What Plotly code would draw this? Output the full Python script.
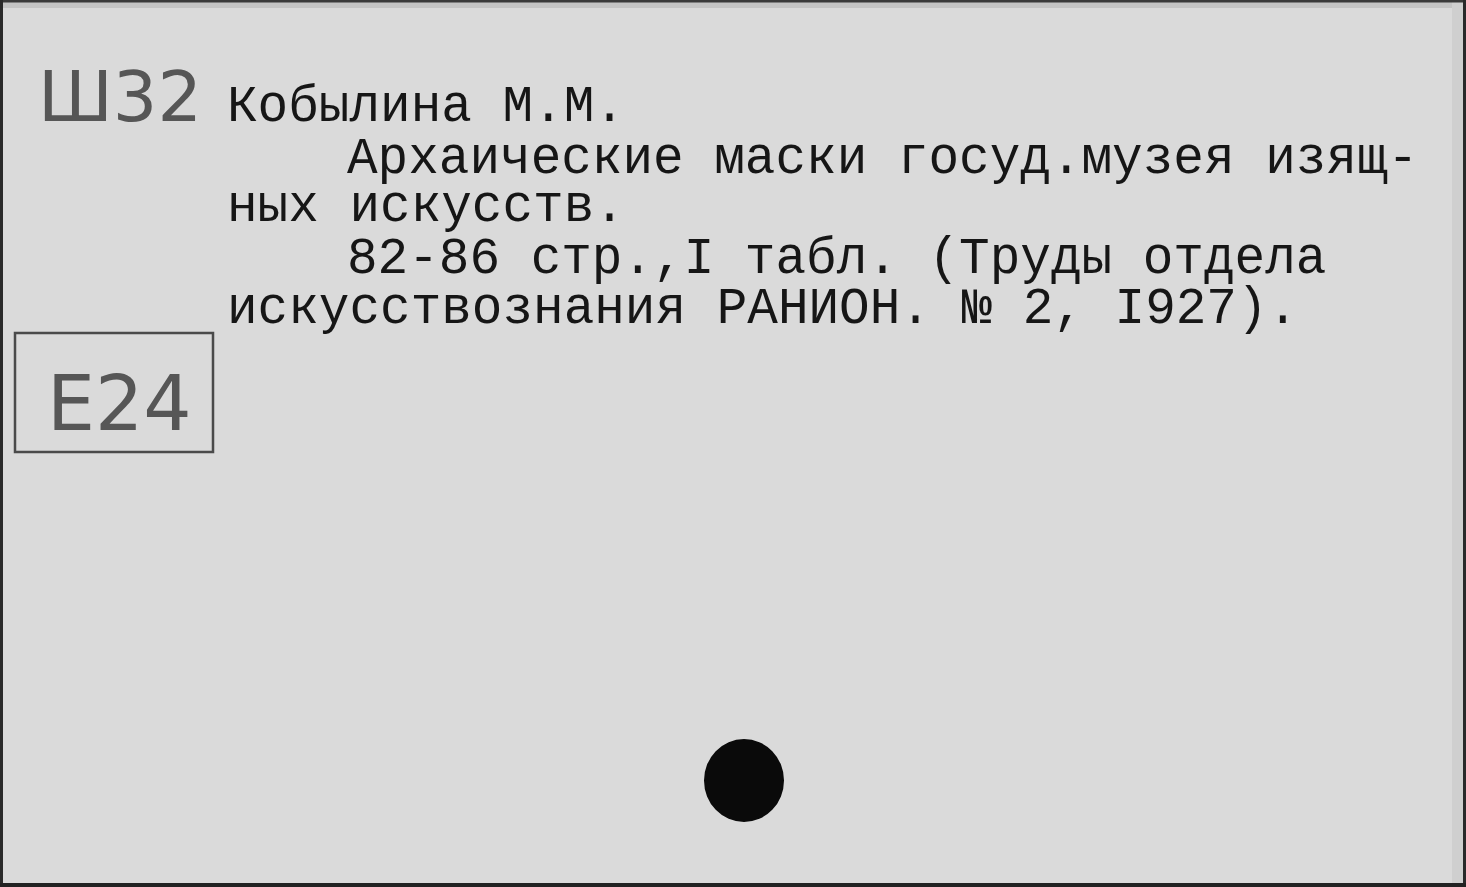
import plotly.graph_objects as go

# typed lines of the catalogue card
lines = [
    "Кобылина М.М.",
    "Архаические маски госуд.музея изящ-",
    "ных искусств.",
    "82-86 стр.,I табл. (Труды отдела",
    "искусствознания РАНИОН. № 2, I927).",
]
# handwritten shelf marks
marks = ["Ш32", "Е24"]

W, H = 1466, 887

# where things sit on the card (pixels from top-left)
line_x = [225, 345, 225, 345, 225]
line_y = [107, 159, 207, 259, 309]
mark_x = [120, 119]
mark_y = [97, 403]
mark_size = [70, 76]

fig = go.Figure()
fig.add_trace(go.Scatter(x=[0, W], y=[0, H], mode="markers",
                         marker=dict(opacity=0), hoverinfo="skip", showlegend=False))

for t, x, y in zip(lines, line_x, line_y):
    fig.add_annotation(x=x, y=y, text=t, showarrow=False, xanchor="left", yanchor="middle",
                       font=dict(family="Liberation Mono", size=51, color="#161616"))

for t, x, y, s in zip(marks, mark_x, mark_y, mark_size):
    fig.add_annotation(x=x, y=y, text=t, showarrow=False, xanchor="center", yanchor="middle",
                       font=dict(family="DejaVu Sans", size=s, color="#565656"))

# card edges
fig.add_shape(type="rect", x0=0, x1=W, y0=0, y1=8, fillcolor="#c4c4c4", line_width=0, layer="below")
fig.add_shape(type="rect", x0=1452, x1=W, y0=0, y1=H, fillcolor="#cfcfcf", line_width=0, layer="below")
fig.add_shape(type="line", x0=0, x1=W, y0=1, y1=1, line=dict(color="#3a3a3a", width=3))
fig.add_shape(type="line", x0=1.5, x1=1.5, y0=0, y1=H, line=dict(color="#2a2a2a", width=3))
fig.add_shape(type="line", x0=W - 1.5, x1=W - 1.5, y0=0, y1=H, line=dict(color="#2a2a2a", width=3))
fig.add_shape(type="line", x0=0, x1=W, y0=H - 2, y1=H - 2, line=dict(color="#222222", width=4))

# box round the second mark
fig.add_shape(type="rect", x0=15, x1=213, y0=333, y1=452, line=dict(color="#4a4a4a", width=2.5))

# punch hole
fig.add_shape(type="circle", x0=704, x1=784, y0=739, y1=822, fillcolor="#0a0a0a", line_width=0)

fig.update_xaxes(range=[0, W], visible=False)
fig.update_yaxes(range=[H, 0], visible=False)
fig.update_layout(width=W, height=H, margin=dict(l=0, r=0, t=0, b=0),
                  paper_bgcolor="#dadada", plot_bgcolor="#dadada")

fig.write_html("out.html", config={"displayModeBar": False},
               post_script="document.body.style.margin='0';")
